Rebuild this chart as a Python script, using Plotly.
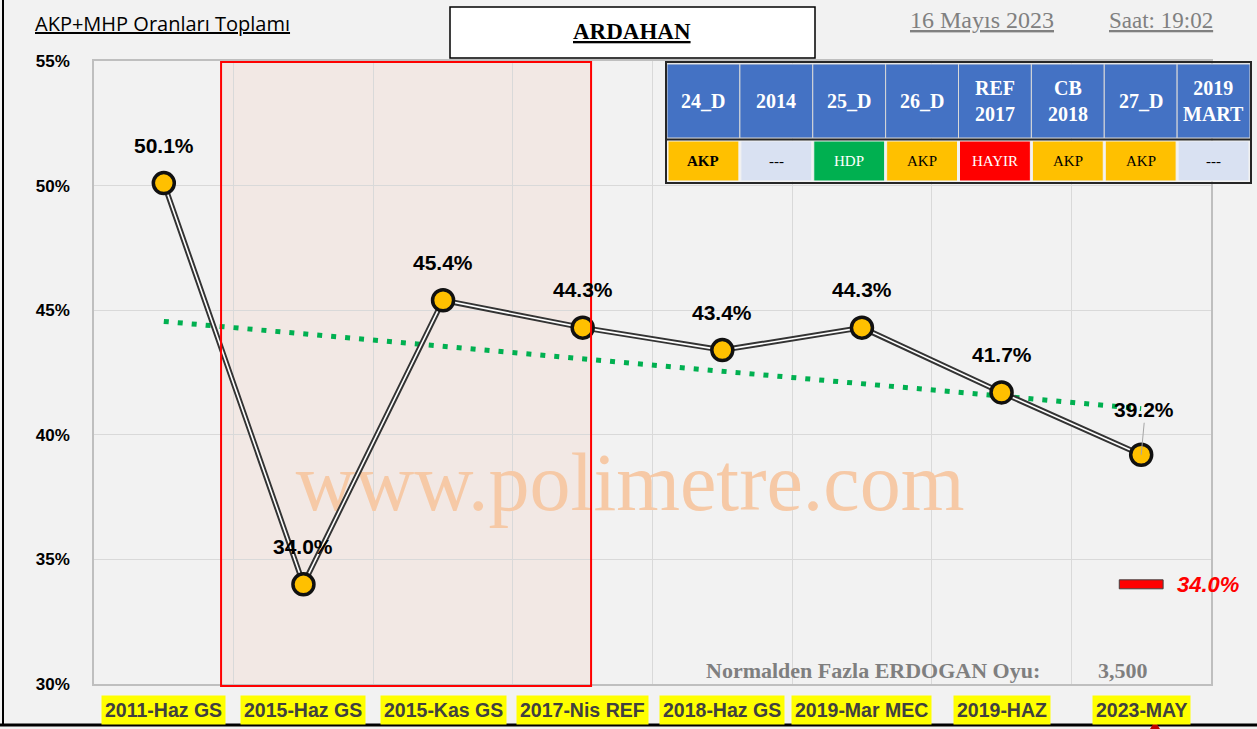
import numpy as np
import plotly.graph_objects as go

# ---- data ----
categories = ["2011-Haz GS", "2015-Haz GS", "2015-Kas GS", "2017-Nis REF",
              "2018-Haz GS", "2019-Mar MEC", "2019-HAZ", "2023-MAY"]
values = [50.1, 34.0, 45.4, 44.3, 43.4, 44.3, 41.7, 39.2]
y_ticks = [30, 35, 40, 45, 50, 55]
y_ticktext = ["30%", "35%", "40%", "45%", "50%", "55%"]

table_headers = ["24_D", "2014", "25_D", "26_D", "REF<br>2017", "CB<br>2018", "27_D", "2019<br>MART"]
table_winners = ["<b>AKP</b>", "---", "HDP", "AKP", "HAYIR", "AKP", "AKP", "---"]
table_fills = ["#FFC000", "#D9E1F2", "#00B050", "#FFC000", "#FF0000", "#FFC000", "#FFC000", "#D9E1F2"]
table_fonts = ["black", "black", "white", "black", "white", "black", "black", "black"]

title_left = "AKP+MHP Oranları Toplamı"
city = "ARDAHAN"
date_text = "16 Mayıs 2023"
time_text = "Saat: 19:02"
extra_label = "Normalden Fazla ERDOGAN Oyu:"
extra_value = "3,500"
watermark = "www.polimetre.com"

W, H = 1257, 729
def px(x): return x / W
def py(y): return 1 - y / H

xs = list(range(len(categories)))
slope, intercept = np.polyfit(xs, values, 1)
trend_x = [xs[0], xs[-1]]
trend_y = [intercept + slope * xs[0], intercept + slope * xs[-1]]

fig = go.Figure()

# watermark (drawn below data)
fig.add_trace(go.Scatter(x=[3.34], y=[37.8], mode="text", text=[watermark],
                         textfont=dict(family="Liberation Serif", size=82, color="#F6C9A6"),
                         hoverinfo="skip", showlegend=False))
# trend line
fig.add_trace(go.Scatter(x=trend_x, y=trend_y, mode="lines",
                         line=dict(color="#00B050", width=5, dash="5px,9px"),
                         hoverinfo="skip", showlegend=False))
# double line
fig.add_trace(go.Scatter(x=xs, y=values, mode="lines",
                         line=dict(color="#333333", width=5.5), showlegend=False))
fig.add_trace(go.Scatter(x=xs, y=values, mode="lines",
                         line=dict(color="#FFFFFF", width=1.6), showlegend=False))
# markers
fig.add_trace(go.Scatter(x=xs, y=values, mode="markers",
                         marker=dict(size=21, color="#FFC000", line=dict(color="#111111", width=3.5)),
                         showlegend=False))

shapes = []
annotations = []

# red highlight box (fill below grid, border above)
shapes.append(dict(type="rect", xref="x", yref="paper", x0=0.41, x1=3.06, y0=py(686), y1=py(62),
                   fillcolor="#F2E8E4", line=dict(width=0), layer="below"))
shapes.append(dict(type="rect", xref="x", yref="paper", x0=0.41, x1=3.06, y0=py(686), y1=py(62),
                   fillcolor="rgba(0,0,0,0)", line=dict(color="#FF0000", width=2), layer="above"))
# title box
shapes.append(dict(type="rect", xref="paper", yref="paper", x0=px(450), x1=px(815), y0=py(58), y1=py(7),
                   fillcolor="white", line=dict(color="black", width=1.5), layer="below"))

# table built from shapes + annotations
tx0, tx1 = 667, 1250
ncol = len(table_headers)
cw = (tx1 - tx0) / ncol
hy0, hy1 = 64, 138
ry0, ry1 = 141, 181
for j in range(ncol):
    cx0 = tx0 + j * cw
    cx1 = cx0 + cw
    shapes.append(dict(type="rect", xref="paper", yref="paper", x0=px(cx0), x1=px(cx1),
                       y0=py(hy1), y1=py(hy0), fillcolor="#4472C4",
                       line=dict(color="#D9D9D9", width=1), layer="above"))
    shapes.append(dict(type="rect", xref="paper", yref="paper", x0=px(cx0 + 1), x1=px(cx1 - 1),
                       y0=py(ry1), y1=py(ry0), fillcolor=table_fills[j],
                       line=dict(color="#F2F2F2", width=1), layer="above"))
    annotations.append(dict(x=px((cx0 + cx1) / 2), y=py((hy0 + hy1) / 2), xref="paper", yref="paper",
                            xanchor="center", yanchor="middle", showarrow=False,
                            text="<b>%s</b>" % table_headers[j],
                            font=dict(family="Liberation Serif", size=20, color="white")))
    annotations.append(dict(x=px((cx0 + cx1) / 2), y=py((ry0 + ry1) / 2), xref="paper", yref="paper",
                            xanchor="center", yanchor="middle", showarrow=False,
                            text=table_winners[j],
                            font=dict(family="Liberation Serif", size=15, color=table_fonts[j])))
shapes.append(dict(type="rect", xref="paper", yref="paper", x0=px(tx0 - 1), x1=px(tx1 + 1),
                   y0=py(ry1 + 2), y1=py(hy0 - 2),
                   fillcolor="rgba(0,0,0,0)", line=dict(color="#262626", width=2), layer="above"))
shapes.append(dict(type="line", xref="paper", yref="paper", x0=px(tx0 - 1), x1=px(tx1 + 1),
                   y0=py(139.5), y1=py(139.5), line=dict(color="#262626", width=2), layer="above"))

# min marker
vmin = min(values)
shapes.append(dict(type="rect", xref="x", yref="y", x0=xs[-1] - 0.157, x1=xs[-1] + 0.157,
                   y0=vmin - 0.18, y1=vmin + 0.18, fillcolor="#FF0000",
                   line=dict(color="#404040", width=1), layer="above"))
# outer frame lines
shapes.append(dict(type="line", xref="paper", yref="paper", x0=px(3), x1=px(3), y0=py(725), y1=1,
                   line=dict(color="black", width=2)))
shapes.append(dict(type="line", xref="paper", yref="paper", x0=0, x1=1, y0=py(725), y1=py(725),
                   line=dict(color="black", width=3)))
# small red triangle
shapes.append(dict(type="path", xref="paper", yref="paper",
                   path="M %f %f L %f %f L %f %f Z" % (px(1150), py(729), px(1155), py(721), px(1160), py(729)),
                   fillcolor="#C00000", line=dict(width=0)))

# data labels
lab_font = dict(family="Liberation Sans", size=21, color="black", weight="bold")
for i, v in enumerate(values):
    if i == len(values) - 1:
        annotations.append(dict(x=i, y=v, xref="x", yref="y", text="%.1f%%" % v, showarrow=True,
                                arrowhead=0, arrowwidth=1, arrowcolor="#A6A6A6", ax=3, ay=-32,
                                yanchor="bottom", xanchor="center", font=lab_font))
    else:
        annotations.append(dict(x=i, y=v, xref="x", yref="y", text="%.1f%%" % v, showarrow=False,
                                xanchor="center", yanchor="middle", yshift=38, font=lab_font))
# category labels
for i, c in enumerate(categories):
    annotations.append(dict(x=i, y=py(710), xref="x", yref="paper", text=c, showarrow=False,
                            xanchor="center", yanchor="middle",
                            bgcolor="#FFFF00", borderpad=3,
                            font=dict(family="Liberation Sans", size=19.5,
                                      color="#404040", weight="bold")))
# min value label
annotations.append(dict(x=xs[-1], y=vmin, xref="x", yref="y", text="<i>%.1f%%</i>" % vmin, showarrow=False,
                        xanchor="left", yanchor="middle", xshift=34,
                        font=dict(family="Liberation Sans", size=22, color="#FF0000", weight="bold")))
# texts
def ptext(x, y, text, font, xanchor="center"):
    annotations.append(dict(x=px(x), y=py(y), xref="paper", yref="paper", xanchor=xanchor,
                            yanchor="middle", text=text, showarrow=False, font=font))

ptext(33, 24, "<u>%s</u>" % title_left, dict(family="Open Sans", size=20, color="black"), xanchor="left")
ptext(632, 32, "<u>%s</u>" % city, dict(family="Liberation Serif", size=23, color="black", weight="bold"))
ptext(982, 20, "<u>%s</u>" % date_text, dict(family="Liberation Serif", size=24, color="#808080"))
ptext(1161, 20, "<u>%s</u>" % time_text, dict(family="Liberation Serif", size=23, color="#808080"))
ptext(873, 670, extra_label, dict(family="Liberation Serif", size=22, color="#7F7F7F", weight="bold"))
ptext(1123, 670, extra_value, dict(family="Liberation Serif", size=22, color="#7F7F7F", weight="bold"))

fig.update_layout(
    width=W, height=H, margin=dict(l=0, r=0, t=0, b=0, autoexpand=False),
    paper_bgcolor="#F2F2F2", plot_bgcolor="#F2F2F2",
    showlegend=False, shapes=shapes, annotations=annotations,
    xaxis=dict(domain=[px(94), px(1211)], range=[-0.5, len(categories) - 0.5],
               tickvals=[i - 0.5 for i in range(len(categories) + 1)], showticklabels=False,
               showgrid=True, gridcolor="#D9D9D9", gridwidth=1, zeroline=False,
               showline=True, linecolor="#BFBFBF", linewidth=1.5, mirror=True, ticks=""),
    yaxis=dict(domain=[py(684), py(61)], range=[30, 55], tickvals=y_ticks, ticktext=y_ticktext,
               tickmode="array",
               showgrid=True, gridcolor="#D9D9D9", gridwidth=1, zeroline=False,
               showline=True, linecolor="#BFBFBF", linewidth=1.5, mirror=True, ticks="",
               ticklabelstandoff=19,
               tickfont=dict(family="Liberation Sans", size=17, color="black", weight="bold")),
)

fig.write_html("out.html", config={"displayModeBar": False},
               post_script="document.body.style.margin='0';document.body.style.overflow='hidden';")
